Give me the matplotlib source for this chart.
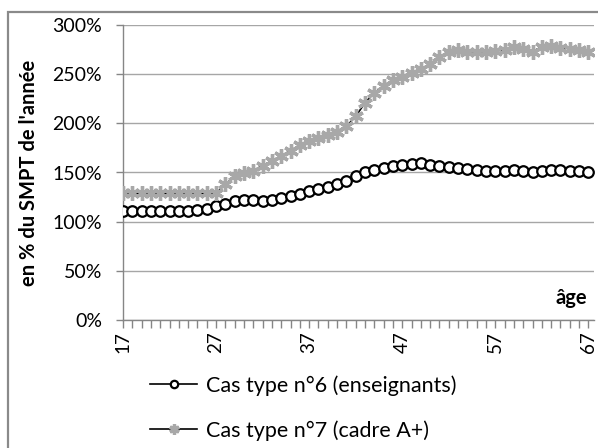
import matplotlib
matplotlib.use("Agg")
import matplotlib.pyplot as plt
from matplotlib.patches import Rectangle
from matplotlib.ticker import FuncFormatter, MultipleLocator

plt.rcParams["font.family"] = ["Lato", "DejaVu Sans"]

# ages 17..67
ages = list(range(17, 68))

# Cas type n°6 (enseignants), en % du SMPT
cas6 = [111, 111, 111, 111, 111, 111, 111, 111, 112, 113,
        116, 118, 121, 122.5, 122.5, 121.5, 122.5, 124.5, 126, 128,
        131, 133.5, 135, 138.5, 141, 146, 150, 153, 154.5, 156.5,
        157.5, 158.5, 159.5, 158, 156.5, 155.5, 155, 154, 152.5, 151.5,
        151.5, 152, 153, 152, 150.5, 151.5, 153, 153, 152, 151.5,
        151]

# Cas type n°7 (cadre A+)
cas7 = [129, 129, 129, 129, 129, 129, 129, 129, 129, 129,
        129, 138, 146, 149, 152, 157, 162, 167, 172, 178,
        182, 185.5, 188, 191, 197, 207, 221, 231, 238, 244,
        247, 251, 255, 260, 267, 273, 275, 273, 273, 273,
        273.5, 275, 278, 276, 273, 278, 279, 277, 276, 275,
        273]

label6 = "Cas type n°6 (enseignants)"
label7 = "Cas type n°7 (cadre A+)"
y_ticks = [0, 50, 100, 150, 200, 250, 300]
x_labels = [17, 27, 37, 47, 57, 67]

GRID = "#a6a6a6"
AXIS = "#868686"

fig = plt.figure(figsize=(5.98, 4.48), dpi=100)
ax = fig.add_axes([123 / 598, 1 - 320 / 448, (594 - 123) / 598, (320 - 25) / 448])

# outer chart frame
fig.patches.append(Rectangle((8 / 598, -0.05), 1.2, 0.974 + 0.05, transform=fig.transFigure,
                             fill=False, edgecolor="#8a8a8a", linewidth=1.6, zorder=-1))

ax.plot(ages, cas6, color="black", linewidth=1.2, marker="o", markersize=7.6,
        markerfacecolor="white", markeredgecolor="black", markeredgewidth=1.6,
        label=label6, zorder=3)
ax.plot(ages, cas7, color="black", linewidth=1.2, marker=(6, 2, 0), markersize=10.5,
        markeredgecolor="#a8a8a8", markeredgewidth=2.4,
        label=label7, zorder=4)

ax.set_xlim(17, 67.6)
ax.set_ylim(0, 300)
ax.set_yticks(y_ticks)
ax.yaxis.set_major_formatter(FuncFormatter(lambda v, p: f"{v:.0f}%"))
ax.yaxis.grid(True, color=GRID, linewidth=1.0)
ax.set_axisbelow(True)

ax.set_xticks(x_labels)
ax.set_xticklabels([str(a) for a in x_labels], rotation=90)
ax.xaxis.set_minor_locator(MultipleLocator(1))
ax.tick_params(axis="x", which="both", direction="out", length=6, width=1, color=AXIS,
               labelsize=13.5, pad=2)
ax.tick_params(axis="y", direction="out", length=5, width=1, color=AXIS, labelsize=14, pad=10)

for side in ("top", "right"):
    ax.spines[side].set_visible(False)
for side in ("left", "bottom"):
    ax.spines[side].set_color(AXIS)
    ax.spines[side].set_linewidth(1.0)

ax.set_ylabel("en % du SMPT de l'année", fontsize=14.5, fontweight="bold", labelpad=10)
ax.text(0.985, 0.054, "âge", transform=ax.transAxes, ha="right", va="baseline",
        fontsize=14.5, fontweight="bold")

fig.legend(loc="upper left", bbox_to_anchor=(150 / 598, 1 - 375 / 448), frameon=False,
           fontsize=15.5, handlelength=2.2, handletextpad=0.4, labelspacing=1.15,
           markerscale=0.7, borderaxespad=0, borderpad=0)

fig.savefig("out.png", dpi=100)
